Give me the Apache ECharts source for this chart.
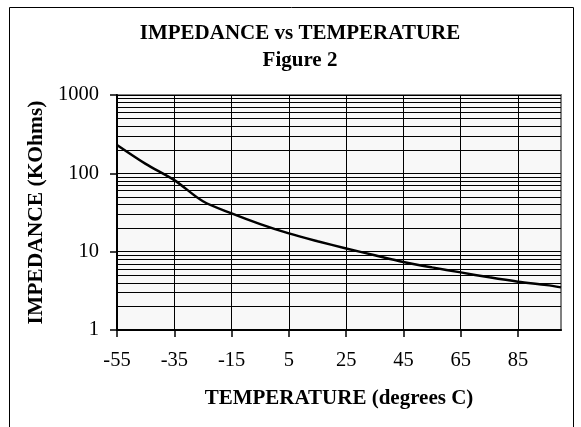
<!DOCTYPE html>
<html>
<head>
<meta charset="utf-8">
<script src="https://cdn.jsdelivr.net/npm/echarts@6/dist/echarts.min.js"></script>
<style>
html,body{margin:0;padding:0;background:#fff;}
#chart{width:581px;height:427px;}
</style>
</head>
<body>
<div id="chart"></div>
<script>
// Data
var temperatures = [-55, -45, -35, -25, -15, -5, 5, 15, 25, 35, 45, 55, 65, 75, 85, 95, 100];
var impedance = [230, 132, 82, 44, 30.8, 22.5, 17.1, 13.6, 11.0, 9.0, 7.4, 6.3, 5.44, 4.7, 4.13, 3.74, 3.5];
var xTickLabels = [-55, -35, -15, 5, 25, 45, 65, 85];
var xGridValues = [-35, -15, 5, 25, 45, 65, 85];
var yMinorGridValues = [2, 3, 4, 5, 6, 7, 8, 9, 20, 30, 40, 50, 60, 70, 80, 90, 200, 300, 400, 500, 600, 700, 800, 900];
var titleText = 'IMPEDANCE vs TEMPERATURE\nFigure 2';
var xAxisName = 'TEMPERATURE (degrees C)';
var yAxisName = 'IMPEDANCE (KOhms)';

var FONT = '"Liberation Serif", "Times New Roman", serif';
var chart = echarts.init(document.getElementById('chart'), null, {renderer: 'canvas'});

var points = temperatures.map(function (t, i) { return [t, impedance[i]]; });
var markData = [];
yMinorGridValues.forEach(function (v) { markData.push({yAxis: v}); });
xGridValues.forEach(function (v) { markData.push({xAxis: v}); });

chart.setOption({
  backgroundColor: '#ffffff',
  animation: false,
  title: {
    text: titleText,
    left: 300,
    textAlign: 'center',
    top: 20,
    padding: 0,
    textStyle: {fontFamily: FONT, fontSize: 21, fontWeight: 'bold', color: '#000', lineHeight: 27}
  },
  graphic: [{
    type: 'rect',
    shape: {x: 9.5, y: 7.5, width: 564, height: 440},
    style: {fill: 'none', stroke: '#000', lineWidth: 1},
    silent: true,
    z: 100
  }],
  grid: {
    left: 117, right: 20, top: 95, bottom: 97,
    show: true,
    backgroundColor: '#f8f8f8',
    borderColor: '#808080',
    borderWidth: 2
  },
  xAxis: {
    type: 'value',
    min: -55,
    max: 100,
    name: xAxisName,
    nameLocation: 'middle',
    nameGap: 58,
    nameTextStyle: {fontFamily: FONT, fontSize: 21, fontWeight: 'bold', color: '#000'},
    axisLine: {show: true, onZero: false, lineStyle: {color: '#000', width: 2}},
    axisTick: {show: true, inside: false, length: 7, customValues: xTickLabels, lineStyle: {color: '#000', width: 1.5}},
    axisLabel: {customValues: xTickLabels, margin: 20, fontFamily: FONT, fontSize: 20.5, color: '#000'},
    splitLine: {show: false}
  },
  yAxis: {
    type: 'log',
    logBase: 10,
    min: 1,
    max: 1000,
    name: yAxisName,
    nameLocation: 'middle',
    nameGap: 70,
    nameRotate: 90,
    nameTextStyle: {fontFamily: FONT, fontSize: 21.5, fontWeight: 'bold', color: '#000'},
    axisLine: {show: true, onZero: false, lineStyle: {color: '#000', width: 2}},
    axisTick: {show: true, inside: false, length: 7, lineStyle: {color: '#000', width: 1.5}},
    axisLabel: {margin: 18, fontFamily: FONT, fontSize: 20.5, color: '#000',
      formatter: function (v) { return String(Math.round(v)); }},
    splitLine: {show: true, lineStyle: {color: '#000', width: 1}},
    minorTick: {show: false},
    minorSplitLine: {show: false}
  },
  series: [{
    type: 'line',
    data: points,
    showSymbol: false,
    smooth: 0.3,
    lineStyle: {color: '#000', width: 2.5},
    itemStyle: {color: '#000'},
    z: 5,
    markLine: {
      silent: true,
      symbol: ['none', 'none'],
      label: {show: false},
      lineStyle: {color: '#000', width: 1, type: 'solid'},
      emphasis: {disabled: true},
      data: markData,
      z: 1
    }
  }]
});
</script>
</body>
</html>
